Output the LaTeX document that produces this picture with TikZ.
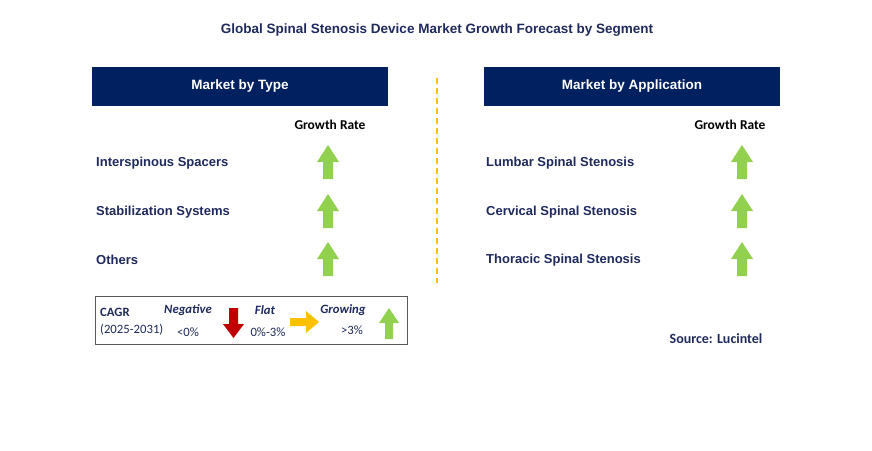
\documentclass[tikz,border=0pt]{standalone}
\usepackage{fontspec}
\setmainfont{Liberation Sans}
\newfontfamily\calfont{Carlito}
\definecolor{navy}{HTML}{002060}
\definecolor{txt}{HTML}{1F2A5C}
\definecolor{grn}{HTML}{92D050}
\definecolor{rd}{HTML}{C00000}
\definecolor{yl}{HTML}{FFC000}
\begin{document}
\begin{tikzpicture}[x=1pt,y=-1pt,
 hdr/.style={fill=navy,text=white,font=\bfseries\fontsize{13.5}{15}\selectfont,minimum width=296pt,minimum height=39pt,inner sep=0pt},
 lbl/.style={text=txt,font=\bfseries\fontsize{13}{15}\selectfont,anchor=west,inner sep=0pt},
 sm/.style={text=txt,font=\calfont\fontsize{12.7}{14}\selectfont,inner sep=0pt},
 smb/.style={text=txt,font=\calfont\bfseries\itshape\fontsize{12.7}{14}\selectfont,inner sep=0pt}]
\useasboundingbox (0,0) rectangle (872,450);
\newcommand{\uparr}[3]{\fill[#3] (#1-5,#2+17) -- (#1-5,#2) -- (#1-11,#2) -- (#1,#2-17) -- (#1+11,#2) -- (#1+5,#2) -- (#1+5,#2+17) -- cycle;}
\node[text=txt,font=\bfseries\fontsize{13.5}{15}\selectfont] (title) at (437,30) {Global Spinal Stenosis Device Market Growth Forecast by Segment};
\node[hdr] (h1) at (240,86) {Market by Type};
\node[hdr] (h2) at (632,86) {Market by Application};
\draw[yl,line width=1.2pt,dash pattern=on 6pt off 4pt] (437,78) -- (437,283);
\node[text=black,font=\calfont\bfseries\fontsize{13.5}{15}\selectfont] (g1) at (330,125) {Growth Rate};
\node[text=black,font=\calfont\bfseries\fontsize{13.5}{15}\selectfont] (g2) at (730,125) {Growth Rate};
\node[lbl] (a1) at (96,163) {Interspinous Spacers};
\node[lbl] (a2) at (96,212) {Stabilization Systems};
\node[lbl] (a3) at (96,260) {Others};
\node[lbl] (b1) at (486,163) {Lumbar Spinal Stenosis};
\node[lbl] (b2) at (486,212) {Cervical Spinal Stenosis};
\node[lbl] (b3) at (486,260) {Thoracic Spinal Stenosis};
\uparr{328}{162}{grn}\uparr{328}{211}{grn}\uparr{328}{259}{grn}
\uparr{742}{162}{grn}\uparr{742}{211}{grn}\uparr{742}{259}{grn}
\draw[gray!70!black,line width=0.8pt,fill=white] (95,296) rectangle (407,344);
\node[sm,font=\calfont\bfseries\fontsize{12.7}{14}\selectfont,anchor=west] (c1) at (100,312) {CAGR};
\node[sm,anchor=west] (c2) at (100,330) {(2025-2031)};
\node[smb] (n1) at (188,310) {Negative};
\node[sm] (n2) at (188,332) {<0\%};
\node[smb] (f1) at (265,310) {Flat};
\node[sm] (f2) at (268,332) {0\%-3\%};
\node[smb] (gr1) at (343,310) {Growing};
\node[sm] (gr2) at (352,330) {>3\%};
\fill[rd] (229,308) -- (238,308) -- (238,324) -- (244,324) -- (233.5,338) -- (223,324) -- (229,324) -- cycle;
\fill[yl] (290,318) -- (306,318) -- (306,311) -- (319,322) -- (306,333) -- (306,326) -- (290,326) -- cycle;
\fill[grn] (385,339) -- (385,323) -- (379,323) -- (389,308) -- (399,323) -- (393,323) -- (393,339) -- cycle;
\node[text=txt,font=\calfont\bfseries\fontsize{14}{16}\selectfont] (src) at (716,339) {Source: Lucintel};
\end{tikzpicture}
\end{document}
